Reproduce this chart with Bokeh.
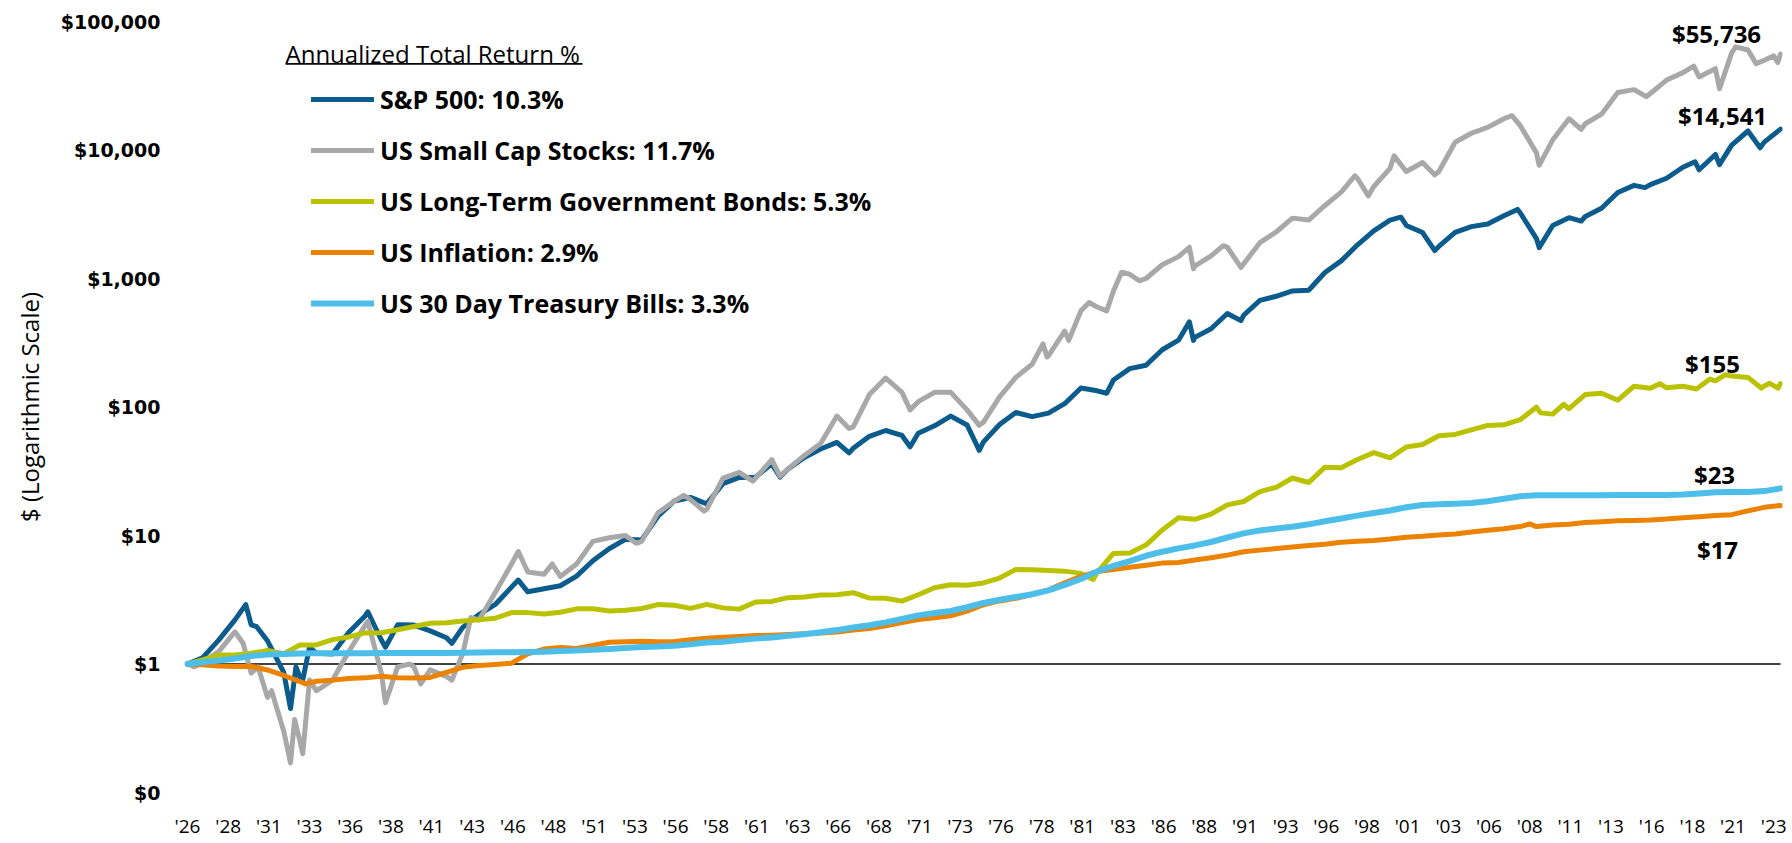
from bokeh.plotting import figure
from bokeh.models import Range1d, FixedTicker, Legend, LegendItem, Label, BoxAnnotation
from bokeh.embed import file_html
from bokeh.resources import INLINE

# ---------------- data ----------------
YEARS = list(range(1926, 2024))
START_DATE = "1926-01"
START_VALUE = 1.0

SP500_YE = [1.116, 1.535, 2.204, 2.018, 1.516, 0.859, 0.789, 1.214, 1.197, 1.767,
            2.367, 1.538, 2.016, 2.008, 1.812, 1.602, 1.927, 2.427, 2.906, 3.965,
            3.645, 3.853, 4.065, 4.829, 6.360, 7.888, 9.336, 9.244, 14.108, 18.561,
            19.778, 17.646, 25.298, 28.322, 28.455, 36.106, 32.954, 40.469, 47.139, 53.008,
            47.674, 59.104, 65.642, 60.059, 62.465, 71.406, 84.956, 72.500, 53.311, 73.144,
            90.584, 84.076, 89.592, 106.112, 140.513, 133.615, 162.221, 198.743, 211.198, 278.880,
            330.916, 348.323, 406.071, 534.455, 517.499, 675.592, 727.412, 800.078, 810.538, 1113.918,
            1370.946, 1828.326, 2350.892, 2845.629, 2586.524, 2279.127, 1775.341, 2284.785, 2533.204, 2657.551,
            3077.276, 3246.386, 2045.403, 2586.524, 2976.255, 3039.179, 3525.651, 4667.361, 5306.436, 5379.822,
            6023.268, 7338.101, 7016.475, 9225.931, 10923.371, 14059.062, 11512.443, 14541.0]
SP500_EXTRA_DATES = ["1929-08", "1930-04", "1932-05", "1932-09", "1933-02", "1933-07", "1937-02",
                     "1938-03", "1942-04", "1946-05", "1962-06",
                     "1966-09", "1970-06", "1974-09", "1982-07", "1987-08", "1987-11", "1990-10",
                     "2000-08", "2002-09", "2007-10", "2009-02", "2011-09", "2015-08", "2018-09",
                     "2020-03", "2022-09"]
SP500_EXTRA_VALUES = [2.90, 1.95, 0.45, 0.95, 0.75, 1.35, 2.55,
                      1.35, 1.45, 4.5, 28.5,
                      44.0, 49.0, 46.0, 128.0, 460.0, 330.0, 470.0,
                      3000.0, 1650.0, 3450.0, 1740.0, 2800.0, 5100.0, 8100.0,
                      7700.0, 10400.0]

SMALL_DATES = ["1926-06", "1926-12", "1927-12", "1928-12", "1929-06", "1929-12", "1930-05", "1930-12",
               "1931-03", "1931-12", "1932-05", "1932-08", "1932-12", "1933-02", "1933-07", "1933-12",
               "1934-06", "1934-12", "1935-12", "1936-12", "1937-02", "1937-12", "1938-03", "1938-12",
               "1939-09", "1939-12", "1940-05", "1940-12", "1941-12", "1942-04", "1942-12", "1943-06",
               "1943-12", "1944-12", "1945-12", "1946-05", "1946-12", "1947-12", "1948-06", "1948-12",
               "1949-12", "1950-12", "1951-12", "1952-12", "1953-08", "1953-12", "1954-12", "1955-12",
               "1956-07", "1956-12", "1957-10", "1957-12", "1958-12", "1959-12", "1960-10", "1960-12",
               "1961-12", "1962-06", "1962-12", "1963-12", "1964-12", "1965-12", "1966-09", "1966-12",
               "1967-12", "1968-12", "1969-12", "1970-06", "1970-12", "1971-12", "1972-12", "1973-12",
               "1974-09", "1974-12", "1975-12", "1976-12", "1977-12", "1978-08", "1978-11", "1978-12",
               "1979-12", "1980-03", "1980-12", "1981-06", "1981-12", "1982-07", "1982-12", "1983-06",
               "1983-12", "1984-07", "1984-12", "1985-12", "1986-12", "1987-08", "1987-11", "1987-12",
               "1988-12", "1989-09", "1989-12", "1990-10", "1990-12", "1991-12", "1992-12", "1993-12",
               "1994-12", "1995-12", "1996-12", "1997-10", "1997-12", "1998-08", "1998-12", "1999-12",
               "2000-03", "2000-12", "2001-12", "2002-09", "2002-12", "2003-12", "2004-12", "2005-12",
               "2006-12", "2007-06", "2007-12", "2008-12", "2009-02", "2009-12", "2010-12", "2011-09",
               "2011-12", "2012-12", "2013-12", "2014-12", "2015-09", "2015-12", "2016-12", "2017-12",
               "2018-08", "2018-12", "2019-12", "2020-03", "2020-12", "2021-03", "2021-12", "2022-06",
               "2022-12", "2023-07", "2023-10", "2023-12"]
SMALL_VALUES = [0.95, 1.02, 1.25, 1.78, 1.45, 0.85, 0.95, 0.55,
                0.62, 0.30, 0.17, 0.37, 0.25, 0.20, 0.75, 0.62,
                0.68, 0.75, 1.25, 2.0, 2.15, 0.85, 0.50, 0.95,
                1.0, 0.95, 0.70, 0.90, 0.80, 0.75, 1.20, 2.30,
                2.20, 3.60, 6.0, 7.5, 5.2, 5.0, 6.0, 4.8,
                6.0, 9.0, 9.6, 10.0, 8.7, 9.0, 15.0, 18.5,
                20.5, 19.0, 15.5, 16.0, 28.0, 31.0, 26.5, 28.0,
                39.0, 29.0, 33.0, 42.0, 52.0, 85.0, 68.0, 70.0,
                125.0, 168.0, 130.0, 95.0, 110.0, 130.0, 130.0, 95.0,
                72.0, 76.0, 120.0, 170.0, 215.0, 310.0, 245.0, 250.0,
                390.0, 330.0, 560.0, 650.0, 600.0, 560.0, 800.0, 1120.0,
                1080.0, 960.0, 1000.0, 1280.0, 1480.0, 1750.0, 1190.0, 1250.0,
                1500.0, 1800.0, 1750.0, 1220.0, 1300.0, 1900.0, 2300.0, 2950.0,
                2850.0, 3700.0, 4700.0, 6300.0, 6000.0, 4400.0, 5200.0, 7200.0,
                9000.0, 6800.0, 8000.0, 6400.0, 6800.0, 11500.0, 13500.0, 15000.0,
                17500.0, 18500.0, 15500.0, 9500.0, 7600.0, 12000.0, 17500.0, 14500.0,
                16000.0, 19000.0, 28000.0, 29500.0, 26000.0, 27500.0, 35000.0, 40000.0,
                45000.0, 37000.0, 43000.0, 30000.0, 57000.0, 63500.0, 60000.0, 47000.0,
                50000.0, 54000.0, 48000.0, 55736.0]

BONDS_YE = [1.078, 1.174, 1.175, 1.215, 1.272, 1.204, 1.407, 1.406, 1.547, 1.624,
            1.746, 1.750, 1.847, 1.957, 2.076, 2.095, 2.163, 2.208, 2.270, 2.514,
            2.511, 2.445, 2.529, 2.686, 2.688, 2.582, 2.615, 2.706, 2.899, 2.862,
            2.711, 2.912, 2.734, 2.673, 3.041, 3.070, 3.282, 3.322, 3.438, 3.463,
            3.589, 3.259, 3.251, 3.086, 3.460, 3.917, 4.140, 4.094, 4.272, 4.665,
            5.447, 5.410, 5.346, 5.280, 5.071, 5.166, 7.251, 7.298, 8.427, 11.037,
            13.745, 13.372, 14.665, 17.322, 18.392, 21.942, 23.709, 28.034, 25.856, 34.044,
            33.727, 39.074, 44.178, 40.218, 48.856, 51.024, 59.734, 61.161, 66.374, 71.924,
            72.742, 79.736, 99.561]
BONDS_LATE_DATES = ["1981-09", "2009-03", "2009-12", "2010-08", "2010-12", "2011-12", "2012-12",
                    "2013-12", "2014-12", "2015-12", "2016-07", "2016-12", "2017-12", "2018-10",
                    "2018-12", "2019-08", "2019-12", "2020-07", "2020-12", "2021-12", "2022-10",
                    "2022-12", "2023-04", "2023-10", "2023-12"]
BONDS_LATE_VALUES = [4.55, 90.0, 88.0, 105.0, 97.0, 125.0, 128.0,
                     113.0, 145.0, 140.0, 152.0, 141.0, 145.0, 138.0,
                     143.0, 165.0, 160.0, 178.0, 174.0, 170.0, 140.0,
                     146.0, 153.0, 140.0, 152.0]

CPI_YE = [0.985, 0.964, 0.955, 0.961, 0.899, 0.814, 0.730, 0.734, 0.749, 0.771,
          0.780, 0.804, 0.782, 0.778, 0.786, 0.862, 0.942, 0.972, 0.993, 1.015,
          1.199, 1.307, 1.343, 1.319, 1.395, 1.477, 1.490, 1.500, 1.493, 1.499,
          1.542, 1.588, 1.615, 1.639, 1.663, 1.674, 1.695, 1.723, 1.743, 1.777,
          1.836, 1.892, 1.981, 2.102, 2.218, 2.292, 2.371, 2.579, 2.894, 3.097,
          3.246, 3.466, 3.778, 4.281, 4.812, 5.242, 5.445, 5.652, 5.875, 6.097,
          6.166, 6.438, 6.722, 7.034, 7.464, 7.693, 7.916, 8.133, 8.351, 8.563,
          8.847, 9.002, 9.145, 9.390, 9.707, 9.861, 10.100, 10.292, 10.630, 10.998,
          11.274, 11.730, 11.739, 12.060, 12.238, 12.600, 12.810, 12.998, 13.090, 13.183,
          13.456, 13.746, 14.016, 14.337, 14.529, 15.548, 16.558, 17.12]
CPI_EXTRA_DATES = ["1933-04", "2008-07"]
CPI_EXTRA_VALUES = [0.70, 12.3]

TBILL_YE = [1.033, 1.065, 1.103, 1.155, 1.183, 1.196, 1.207, 1.210, 1.211, 1.213,
            1.215, 1.219, 1.219, 1.219, 1.219, 1.220, 1.224, 1.228, 1.232, 1.236,
            1.240, 1.247, 1.261, 1.276, 1.291, 1.310, 1.331, 1.356, 1.367, 1.389,
            1.423, 1.468, 1.490, 1.536, 1.576, 1.611, 1.656, 1.707, 1.767, 1.836,
            1.922, 2.005, 2.108, 2.241, 2.390, 2.490, 2.585, 2.764, 2.986, 3.159,
            3.319, 3.489, 3.740, 4.130, 4.589, 5.259, 5.803, 6.324, 6.954, 7.482,
            7.941, 8.369, 8.903, 9.646, 10.379, 10.957, 11.347, 11.699, 12.217, 12.908,
            13.573, 14.273, 14.968, 15.670, 16.598, 17.242, 17.519, 17.697, 17.911, 18.452,
            19.315, 20.215, 20.528, 20.556, 20.582, 20.594, 20.612, 20.622, 20.628, 20.633,
            20.695, 20.878, 21.263, 21.744, 21.839, 21.849, 22.162, 23.28]

SERIES_NAMES = ["S&P 500", "US Small Cap Stocks", "US Long-Term Government Bonds",
                "US Inflation", "US 30 Day Treasury Bills"]
ANNUAL_RETURNS = ["10.3", "11.7", "5.3", "2.9", "3.3"]
END_LABELS = ["$14,541", "$55,736", "$155", "$17", "$23"]
LEGEND_TITLE = "Annualized Total Return %"
Y_TITLE = "$ (Logarithmic Scale)"

X_LABELS = ["'26", "'28", "'31", "'33", "'36", "'38", "'41", "'43", "'46", "'48",
            "'51", "'53", "'56", "'58", "'61", "'63", "'66", "'68", "'71", "'73",
            "'76", "'78", "'81", "'83", "'86", "'88", "'91", "'93", "'96", "'98",
            "'01", "'03", "'06", "'08", "'11", "'13", "'16", "'18", "'21", "'23"]
Y_TICKS = [0.1, 1, 10, 100, 1000, 10000, 100000]
Y_LABELS = ["$0", "$1", "$10", "$100", "$1,000", "$10,000", "$100,000"]
BASELINE = 1.0

# ---------------- build series ----------------
def t_of(d):
    y, m = d.split("-")
    return int(y) + (int(m) - 1) / 12.0


def build(dates, values):
    pts = sorted(zip([START_DATE] + list(dates), [START_VALUE] + list(values)),
                 key=lambda p: t_of(p[0]))
    return [t_of(d) for d, _ in pts], [v for _, v in pts]


ye_dates = [f"{y}-12" for y in YEARS]
sp_t, sp_v = build(ye_dates + SP500_EXTRA_DATES, SP500_YE + SP500_EXTRA_VALUES)
sm_t, sm_v = build(SMALL_DATES, SMALL_VALUES)
bd_t, bd_v = build(ye_dates[:len(BONDS_YE)] + BONDS_LATE_DATES, BONDS_YE + BONDS_LATE_VALUES)
cp_t, cp_v = build(ye_dates + CPI_EXTRA_DATES, CPI_YE + CPI_EXTRA_VALUES)
tb_t, tb_v = build(ye_dates, TBILL_YE)

# ---------------- layout constants ----------------
W, H = 1792, 843
X0, X1 = 1925.57, 2024.04
FL, FR = 180.0, 1782.0      # frame left/right (page px)
FT, FB = 21.0, 792.0        # frame top/bottom (page px)
PPY = (FR - FL) / (X1 - X0)
PPD = (FB - FT) / 6.0


def px_t(px):
    return X0 + (px - FL) / PPY


def py_v(py):
    return 10 ** (5 - (py - FT) / PPD)


p = figure(width=W, height=H, output_backend="svg", toolbar_location=None,
           x_range=Range1d(X0, X1), y_range=Range1d(Y_TICKS[0], Y_TICKS[-1]),
           y_axis_type="log",
           min_border_left=int(FL), min_border_right=int(W - FR),
           min_border_top=int(FT), min_border_bottom=int(H - FB))
p.outline_line_color = None
p.grid.visible = False
p.background_fill_color = "white"
p.border_fill_color = "white"

# x axis
xticks = [1926 + 2.5 * i for i in range(len(X_LABELS))]
p.xaxis.ticker = FixedTicker(ticks=xticks, minor_ticks=[])
p.xaxis.major_label_overrides = {t: lab for t, lab in zip(xticks, X_LABELS)}
p.xaxis.axis_line_color = None
p.xaxis.major_tick_line_color = None
p.xaxis.minor_tick_line_color = None
p.xaxis.major_tick_out = 0
p.xaxis.major_tick_in = 0
p.xaxis.major_label_text_font = "Open Sans"
p.xaxis.major_label_text_font_size = "19px"
p.xaxis.major_label_text_color = "black"
p.xaxis.major_label_standoff = 20

# y axis
p.yaxis.ticker = FixedTicker(ticks=Y_TICKS, minor_ticks=[])
p.yaxis.major_label_overrides = {t: lab for t, lab in zip(Y_TICKS, Y_LABELS)}
p.yaxis.axis_line_color = None
p.yaxis.major_tick_line_color = None
p.yaxis.minor_tick_line_color = None
p.yaxis.major_tick_out = 0
p.yaxis.major_tick_in = 0
p.yaxis.major_label_text_font = "DejaVu Sans"
p.yaxis.major_label_text_font_style = "bold"
p.yaxis.major_label_text_font_size = "19px"
p.yaxis.major_label_text_color = "black"
p.yaxis.major_label_standoff = 20
p.yaxis.axis_label = Y_TITLE
p.yaxis.axis_label_text_font = "Open Sans"
p.yaxis.axis_label_text_font_style = "normal"
p.yaxis.axis_label_text_font_size = "24px"
p.yaxis.axis_label_text_color = "black"
p.yaxis.axis_label_standoff = 12

# baseline at $1 across the data span
p.line(x=[sp_t[0], sp_t[-1]], y=[BASELINE, BASELINE], line_color="black", line_width=1.6)

COLORS = ["#0B5C8C", "#A8A8A8", "#BAC200", "#EB8200", "#4DBEEA"]
WIDTHS = [5, 5, 5, 5, 6]
data = [(sp_t, sp_v), (sm_t, sm_v), (bd_t, bd_v), (cp_t, cp_v), (tb_t, tb_v)]
renderers = []
for (tx, vy), c, w in zip(data, COLORS, WIDTHS):
    r = p.line(tx, vy, line_color=c, line_width=w, line_join="round", line_cap="round")
    renderers.append(r)

legend = Legend(
    items=[LegendItem(label=f"{n}: {r}%", renderers=[rd])
           for n, r, rd in zip(SERIES_NAMES, ANNUAL_RETURNS, renderers)],
    location=(131, 471), orientation="vertical",
    glyph_width=63, glyph_height=36, label_height=36, label_standoff=6,
    spacing=15, padding=0, margin=0,
    border_line_color=None, background_fill_alpha=0,
    label_text_font="Open Sans", label_text_font_size="25px",
    label_text_font_style="bold", label_text_color="black",
)
p.add_layout(legend)

# legend title with underline
p.add_layout(Label(x=px_t(285), y=py_v(53), text=LEGEND_TITLE, text_font="Open Sans",
                   text_font_size="24px", text_color="black", text_align="left",
                   text_baseline="middle"))
p.add_layout(BoxAnnotation(left=px_t(285), right=px_t(582), top=py_v(62.5), bottom=py_v(64.3),
                           fill_color="black", fill_alpha=1.0, line_color=None))

# end-value labels (offsets in px from each series' last point)
OFFSETS = [(-58, -13.6), (-64, -20.6), (-68, -20.0), (-63, 44.0), (-66, -14.0)]
for (tx, vy), lab, (dx, dy) in zip(data, END_LABELS, OFFSETS):
    p.add_layout(Label(x=tx[-1] + dx / PPY, y=vy[-1] * 10 ** (-dy / PPD), text=lab,
                       text_font="Open Sans", text_font_size="24px", text_font_style="bold",
                       text_color="black", text_align="center", text_baseline="middle"))

open("out.html", "w").write(file_html(p, INLINE))
